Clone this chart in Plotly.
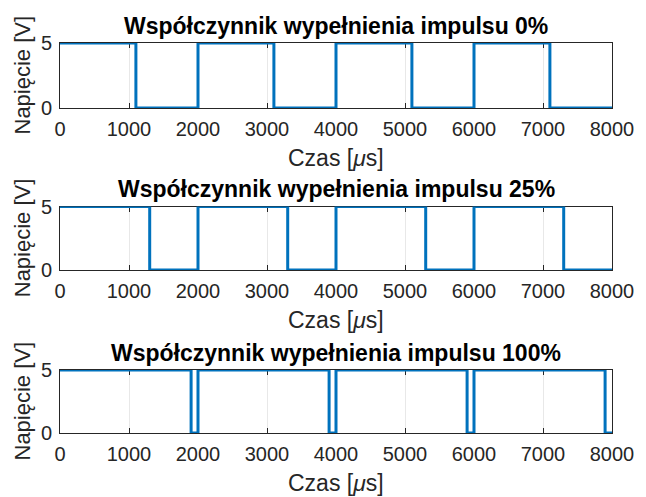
import plotly.graph_objects as go

# Data: step signals (transition times in microseconds, voltage levels)
t_0 = [0, 1100, 2000, 3100, 4000, 5100, 6000, 7100, 8000]
t_25 = [0, 1300, 2000, 3300, 4000, 5300, 6000, 7300, 8000]
t_100 = [0, 1900, 2000, 3900, 4000, 5900, 6000, 7900, 8000]
v_levels = [5, 0, 5, 0, 5, 0, 5, 0, 0]

titles = ["Współczynnik wypełnienia impulsu 0%",
          "Współczynnik wypełnienia impulsu 25%",
          "Współczynnik wypełnienia impulsu 100%"]
x_ticks = [0, 1000, 2000, 3000, 4000, 5000, 6000, 7000, 8000]
y_ticks = [0, 5]

W, H = 646, 497
ML, MR, MT, MB = 60, 24, 43, 64
PH = H - MT - MB
panels = [(43, 108), (206.5, 270), (370, 433)]
domains = [[(H - MB - b) / PH, (H - MB - t) / PH] for t, b in panels]

FONT = "Liberation Sans, Arial, Helvetica, sans-serif"
LINE = "#0072BD"
AX = "#262626"

fig = go.Figure()
series = [t_0, t_25, t_100]
for i, t in enumerate(series):
    sfx = "" if i == 0 else str(i + 1)
    fig.add_trace(go.Scatter(x=t, y=v_levels, mode="lines", line_shape="hv",
                             line=dict(color=LINE, width=3),
                             xaxis="x" + sfx, yaxis="y" + sfx,
                             cliponaxis=False, showlegend=False, hoverinfo="skip"))

layout = dict(width=W, height=H, margin=dict(l=ML, r=MR, t=MT, b=MB),
              paper_bgcolor="white", plot_bgcolor="white",
              font=dict(family=FONT, color=AX, size=20), showlegend=False)

annotations = []
for i in range(3):
    sfx = "" if i == 0 else str(i + 1)
    layout["xaxis" + sfx] = dict(domain=[0, 1], anchor="y" + sfx, range=[0, 8000],
                                 tickvals=x_ticks, ticktext=[str(v) for v in x_ticks],
                                 showgrid=True, gridcolor="#e8e8e8", gridwidth=1,
                                 zeroline=False, showline=True, linecolor=AX, linewidth=1,
                                 mirror="ticks", ticks="inside", ticklen=5, tickcolor=AX,
                                 tickfont=dict(size=20, color=AX), ticklabelstandoff=3,
                                 layer="below traces", fixedrange=True)
    layout["yaxis" + sfx] = dict(domain=domains[i], anchor="x" + sfx, range=[0, 5],
                                 tickvals=y_ticks, ticktext=[str(v) for v in y_ticks],
                                 showgrid=True, gridcolor="#e8e8e8",
                                 zeroline=False, showline=True, linecolor=AX, linewidth=1,
                                 mirror="ticks", ticks="inside", ticklen=5, tickcolor=AX,
                                 tickfont=dict(size=20, color=AX), ticklabelstandoff=3,
                                 layer="below traces", fixedrange=True)
    top, bot = domains[i][1], domains[i][0]
    annotations.append(dict(text="<b>" + titles[i] + "</b>", xref="paper", yref="paper",
                            x=0.5, y=top, xanchor="center", yanchor="bottom", yshift=2,
                            showarrow=False, font=dict(size=23, color="black", family=FONT)))
    annotations.append(dict(text="Czas [<i>μ</i>s]", xref="paper", yref="paper",
                            x=0.5, y=bot, xanchor="center", yanchor="middle", yshift=-50,
                            showarrow=False, font=dict(size=23, color=AX, family=FONT)))
    annotations.append(dict(text="Napięcie [V]", xref="paper", yref="paper",
                            x=0, y=(top + bot) / 2, xanchor="center", yanchor="middle",
                            xshift=-38, textangle=-90,
                            showarrow=False, font=dict(size=22, color=AX, family=FONT)))
layout["annotations"] = annotations
fig.update_layout(**layout)
fig.write_html("out.html")
